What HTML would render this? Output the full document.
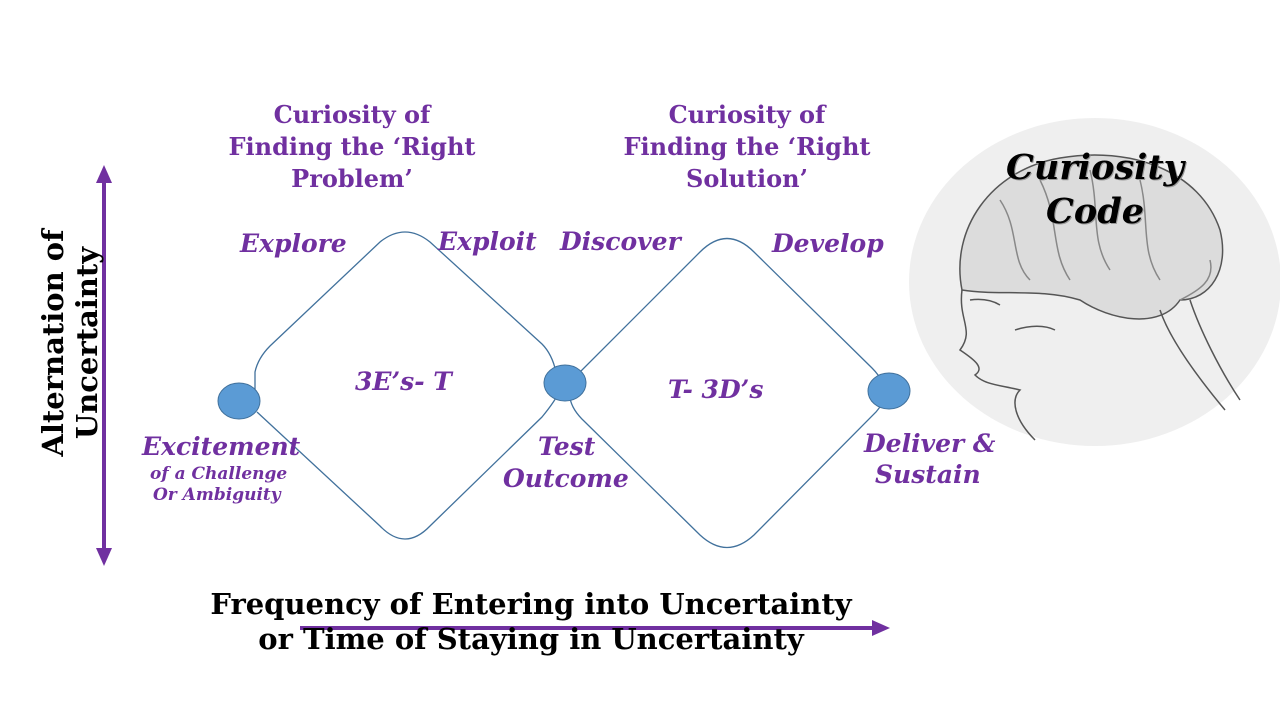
<!DOCTYPE html>
<html><head><meta charset="utf-8"><style>
body{margin:0;width:1280px;height:720px;background:#fff;overflow:hidden;position:relative;font-family:"DejaVu Serif","Liberation Serif",serif}
.t{position:absolute;color:#7030A0;font-weight:bold;font-style:italic;white-space:nowrap}
.h{position:absolute;color:#7030A0;font-weight:bold;text-align:center;font-size:24px;line-height:32px;white-space:nowrap}
</style></head><body>
<svg width="1280" height="720" style="position:absolute;left:0;top:0">
<ellipse cx="1095" cy="282" rx="186" ry="164" fill="#efefef"/>
<g fill="none" stroke="#555" stroke-width="1.5">
<path d="M962,290 C950,230 990,170 1060,158 C1130,146 1200,170 1220,230 C1230,270 1210,300 1180,300 C1160,330 1110,320 1080,300 C1040,288 1000,296 962,290Z" fill="#dcdcdc"/>
<path d="M1000,200 C1020,230 1010,260 1030,280 M1040,180 C1060,220 1050,250 1070,280 M1090,170 C1100,210 1090,240 1110,270 M1140,180 C1150,220 1140,250 1160,280 M1180,300 C1200,290 1215,280 1210,260" stroke="#888"/>
<path d="M1190,300 C1200,330 1220,370 1240,400 M1160,310 C1170,340 1200,380 1225,410" />
<path d="M962,290 C958,320 975,330 960,350 C975,360 985,368 975,375 C985,385 1000,385 1020,390 C1010,400 1015,420 1035,440"/>
<path d="M1015,330 C1030,325 1045,325 1055,330 M970,300 C985,298 995,302 1000,305"/>
</g>
<g fill="none" stroke="#41719C" stroke-width="1.3">
<path d="M255,392 L255,372 Q258,358 270,346 L380,242 Q405,222 430,242 L542,344 Q552,354 556,372"/>
<path d="M257,412 L380,526 Q405,552 430,526 L542,417 Q556,400 560,390"/>
<path d="M572,380 L700,252 Q727,225 754,252 L872,368 Q882,378 884,388"/>
<path d="M570,398 Q572,410 585,422 L700,535 Q727,560 754,535 L876,412 Q884,402 886,398"/>
</g>
<ellipse cx="239" cy="401" rx="21" ry="18" fill="#5B9BD5" stroke="#41719C"/>
<ellipse cx="565" cy="383" rx="21" ry="18" fill="#5B9BD5" stroke="#41719C"/>
<ellipse cx="889" cy="391" rx="21" ry="18" fill="#5B9BD5" stroke="#41719C"/>
<g stroke="#7030A0" stroke-width="4" fill="#7030A0">
<line x1="104" y1="180" x2="104" y2="552"/>
<polygon points="104,165 96,183 112,183" stroke="none"/>
<polygon points="104,566 96,548 112,548" stroke="none"/>
<line x1="300" y1="628" x2="874" y2="628"/>
<polygon points="890,628 872,620 872,636" stroke="none"/>
</g>
</svg>
<div class="h" style="left:352px;top:99px;transform:translateX(-50%)">Curiosity of<br>Finding the ‘Right<br>Problem’</div>
<div class="h" style="left:747px;top:99px;transform:translateX(-50%)">Curiosity of<br>Finding the ‘Right<br>Solution’</div>
<div class="t" style="left:240px;top:229px;font-size:25px">Explore</div>
<div class="t" style="left:438px;top:227px;font-size:25px">Exploit</div>
<div class="t" style="left:560px;top:227px;font-size:25px">Discover</div>
<div class="t" style="left:772px;top:229px;font-size:25px">Develop</div>
<div class="t" style="left:355px;top:367px;font-size:25px">3E’s- T</div>
<div class="t" style="left:668px;top:375px;font-size:25px">T- 3D’s</div>
<div class="t" style="left:142px;top:432px;font-size:25px">Excitement</div>
<div class="t" style="left:150px;top:464px;font-size:17px">of a Challenge</div>
<div class="t" style="left:153px;top:485px;font-size:17px">Or Ambiguity</div>
<div class="t" style="left:538px;top:432px;font-size:25px">Test</div>
<div class="t" style="left:503px;top:464px;font-size:25px">Outcome</div>
<div class="t" style="left:864px;top:429px;font-size:25px">Deliver &amp;</div>
<div class="t" style="left:875px;top:460px;font-size:25px">Sustain</div>
<div style="position:absolute;left:1095px;top:146px;transform:translateX(-50%);text-align:center;font-weight:bold;font-style:italic;font-size:35px;line-height:44px;color:#000;text-shadow:1px 1px 0 #999">Curiosity<br>Code</div>
<div style="position:absolute;left:70px;top:343px;transform:translate(-50%,-50%) rotate(-90deg);text-align:center;font-weight:bold;font-size:29px;line-height:34px;white-space:nowrap">Alternation of<br>Uncertainty</div>
<div style="position:absolute;left:531px;top:587px;transform:translateX(-50%);text-align:center;font-weight:bold;font-size:29px;line-height:35px;white-space:nowrap">Frequency of Entering into Uncertainty<br>or Time of Staying in Uncertainty</div>
</body></html>
